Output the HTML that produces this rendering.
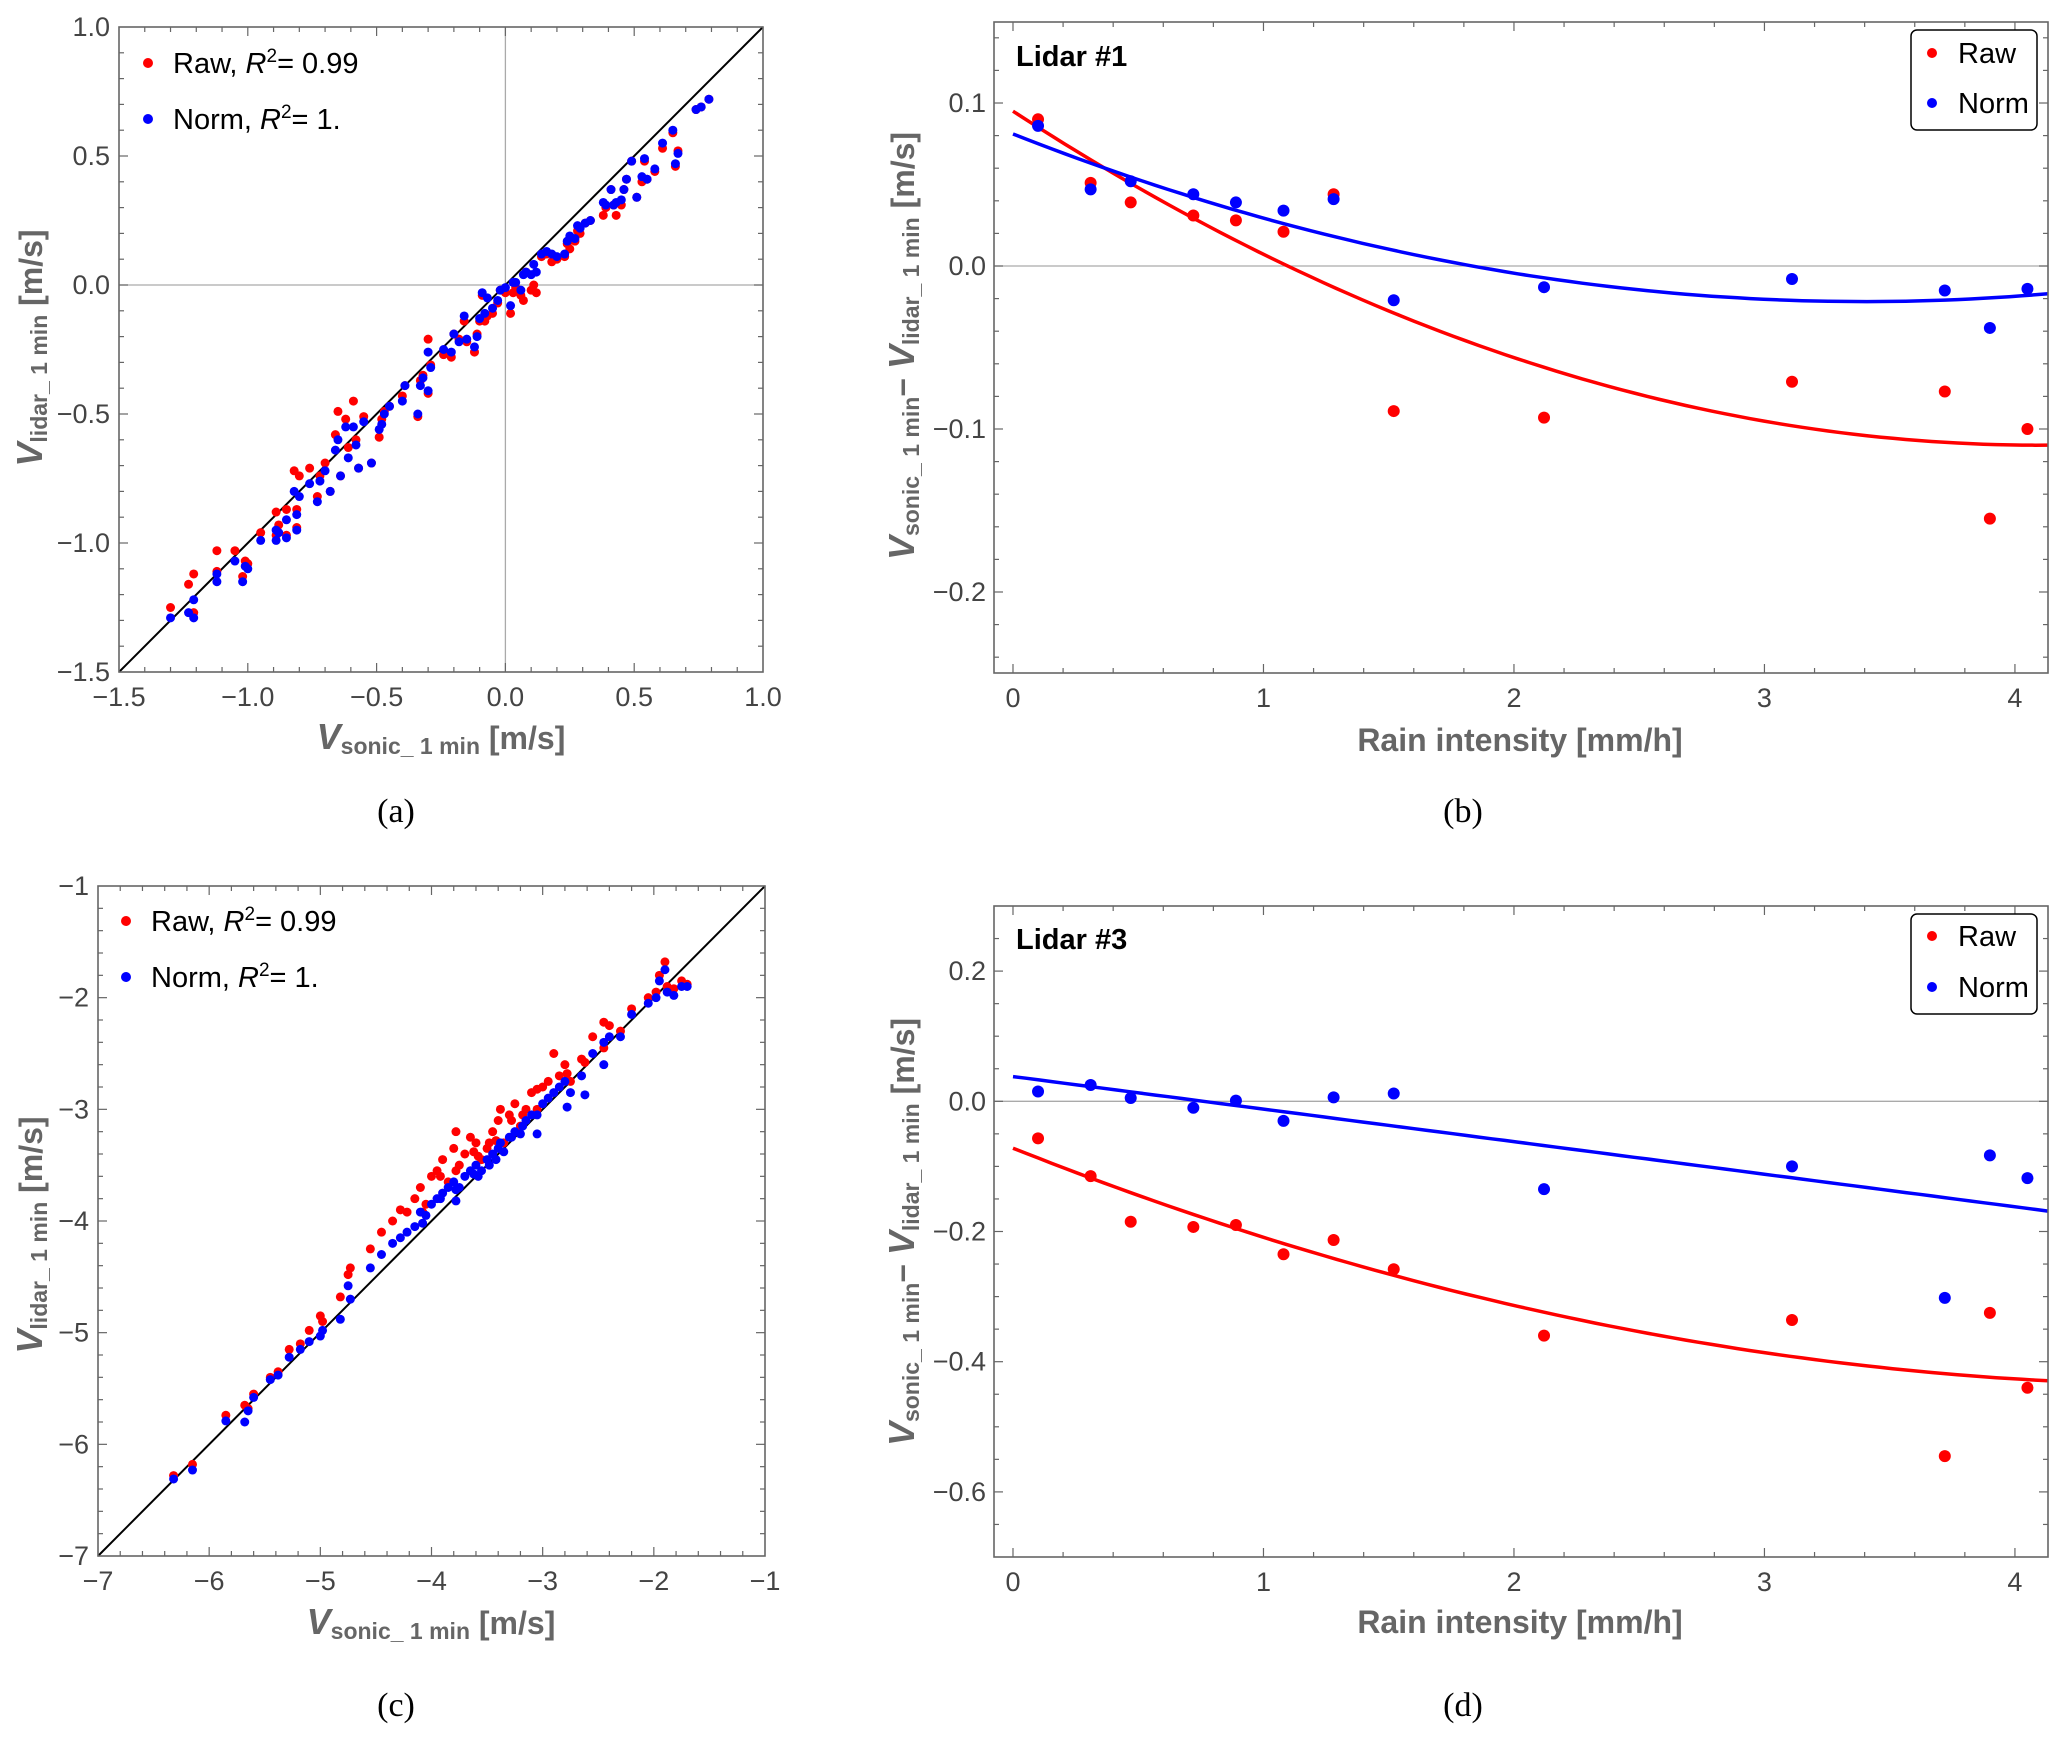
<!DOCTYPE html>
<html><head><meta charset="utf-8">
<style>
html,body{margin:0;padding:0;background:#fff;}
svg{display:block;font-family:"Liberation Sans",sans-serif;}
.tick{font-size:27px;fill:#444;}
.ttl{font-size:32px;font-weight:bold;fill:#666;}
.leg{font-size:29px;fill:#000;}
.cap{font-family:"Liberation Serif",serif;font-size:34px;fill:#000;}
</style></head>
<body>
<svg id="fig" width="2067" height="1739" viewBox="0 0 2067 1739" xmlns="http://www.w3.org/2000/svg"></svg>
<script>
// ---- Panel (a) data ----
const aSonic=[-1.30,-1.23,-1.21,-1.21,-1.12,-1.12,-1.05,-1.02,-1.01,-1.00,-0.95,-0.89,-0.89,-0.88,-0.85,-0.85,-0.82,-0.81,-0.81,-0.80,-0.76,-0.73,-0.72,-0.70,-0.68,-0.66,-0.65,-0.64,-0.62,-0.61,-0.59,-0.58,-0.57,-0.55,-0.52,-0.49,-0.48,-0.47,-0.45,-0.40,-0.39,-0.34,-0.33,-0.32,-0.30,-0.30,-0.29,-0.24,-0.21,-0.20,-0.18,-0.16,-0.15,-0.12,-0.11,-0.10,-0.09,-0.08,-0.07,-0.05,-0.03,-0.02,0.00,0.02,0.03,0.04,0.06,0.07,0.08,0.10,0.11,0.12,0.14,0.16,0.18,0.20,0.23,0.24,0.25,0.27,0.28,0.29,0.31,0.33,0.38,0.39,0.41,0.42,0.43,0.45,0.46,0.47,0.49,0.51,0.53,0.54,0.55,0.58,0.61,0.65,0.66,0.67,0.74,0.76,0.79];
const aRaw=[-1.25,-1.16,-1.12,-1.27,-1.03,-1.11,-1.03,-1.13,-1.07,-1.08,-0.96,-0.97,-0.88,-0.93,-0.97,-0.87,-0.72,-0.87,-0.94,-0.74,-0.71,-0.82,-0.74,-0.69,-0.80,-0.58,-0.49,-0.74,-0.52,-0.63,-0.45,-0.60,-0.71,-0.51,-0.69,-0.59,-0.52,-0.49,-0.47,-0.43,-0.39,-0.51,-0.37,-0.35,-0.21,-0.42,-0.31,-0.27,-0.28,-0.19,-0.21,-0.14,-0.22,-0.26,-0.19,-0.14,-0.04,-0.14,-0.12,-0.11,-0.07,-0.02,-0.03,-0.11,-0.03,-0.01,-0.04,-0.06,0.05,-0.02,0.00,-0.03,0.11,0.12,0.09,0.10,0.11,0.16,0.14,0.17,0.21,0.20,0.24,0.25,0.27,0.30,0.37,0.31,0.27,0.31,0.37,0.41,0.48,0.34,0.40,0.48,0.41,0.44,0.53,0.59,0.46,0.52,0.68,0.69,0.72];
const aNorm=[-1.29,-1.27,-1.29,-1.22,-1.15,-1.12,-1.07,-1.15,-1.09,-1.10,-0.99,-0.99,-0.95,-0.96,-0.98,-0.91,-0.80,-0.89,-0.95,-0.82,-0.77,-0.84,-0.76,-0.72,-0.80,-0.64,-0.60,-0.74,-0.55,-0.67,-0.55,-0.62,-0.71,-0.53,-0.69,-0.56,-0.54,-0.50,-0.47,-0.45,-0.39,-0.50,-0.39,-0.36,-0.26,-0.41,-0.32,-0.25,-0.26,-0.19,-0.22,-0.12,-0.21,-0.24,-0.20,-0.13,-0.03,-0.11,-0.05,-0.09,-0.06,-0.02,-0.01,-0.08,0.01,0.01,-0.02,0.04,0.05,0.04,0.08,0.05,0.12,0.13,0.12,0.11,0.12,0.17,0.19,0.18,0.23,0.22,0.24,0.25,0.32,0.31,0.37,0.31,0.32,0.33,0.37,0.41,0.48,0.34,0.42,0.49,0.41,0.45,0.55,0.60,0.47,0.51,0.68,0.69,0.72];
const aTicks=[-1.5,-1.0,-0.5,0.0,0.5,1.0];
const aTickLabels=["\u22121.5","\u22121.0","\u22120.5","0.0","0.5","1.0"];
// ---- Panel (c) data ----
const cSonic=[-6.32,-6.15,-5.85,-5.68,-5.65,-5.60,-5.45,-5.38,-5.28,-5.18,-5.10,-5.00,-4.98,-4.82,-4.75,-4.73,-4.55,-4.45,-4.35,-4.28,-4.22,-4.15,-4.10,-4.05,-4.00,-3.95,-3.90,-3.85,-3.80,-3.75,-3.70,-3.65,-3.60,-3.55,-3.50,-3.45,-3.40,-3.35,-3.30,-3.25,-3.20,-3.15,-3.10,-3.05,-3.00,-2.95,-2.90,-2.85,-2.80,-2.75,-2.65,-2.55,-2.45,-2.40,-2.30,-2.20,-2.05,-1.98,-1.95,-1.90,-1.88,-1.82,-1.75,-1.70,-3.92,-3.78,-3.62,-3.48,-3.38,-3.28,-3.18,-4.08,-3.58,-3.42,-2.78,-2.62,-2.45,-3.78,-3.05];
const cRaw=[-6.28,-6.18,-5.74,-5.65,-5.68,-5.55,-5.40,-5.35,-5.15,-5.10,-4.98,-4.85,-4.90,-4.68,-4.48,-4.42,-4.25,-4.10,-4.00,-3.90,-3.92,-3.80,-3.70,-3.85,-3.60,-3.55,-3.45,-3.65,-3.35,-3.50,-3.40,-3.25,-3.30,-3.45,-3.35,-3.20,-3.10,-3.30,-3.05,-2.95,-3.15,-3.00,-2.85,-3.00,-2.80,-2.75,-2.50,-2.70,-2.60,-2.75,-2.55,-2.35,-2.22,-2.25,-2.30,-2.10,-2.00,-1.95,-1.80,-1.68,-1.90,-1.92,-1.85,-1.88,-3.60,-3.55,-3.38,-3.30,-3.00,-3.10,-3.05,-3.92,-3.42,-3.28,-2.68,-2.58,-2.45,-3.20,-2.82];
const cNorm=[-6.31,-6.23,-5.79,-5.80,-5.70,-5.58,-5.42,-5.38,-5.22,-5.15,-5.08,-5.03,-4.98,-4.88,-4.58,-4.70,-4.42,-4.30,-4.20,-4.15,-4.10,-4.05,-3.92,-3.95,-3.85,-3.80,-3.75,-3.70,-3.65,-3.70,-3.60,-3.55,-3.50,-3.55,-3.45,-3.40,-3.35,-3.38,-3.25,-3.20,-3.22,-3.10,-3.05,-3.05,-2.95,-2.90,-2.85,-2.80,-2.75,-2.85,-2.70,-2.50,-2.40,-2.35,-2.35,-2.15,-2.05,-2.00,-1.85,-1.75,-1.95,-1.98,-1.90,-1.90,-3.80,-3.72,-3.58,-3.50,-3.30,-3.25,-3.15,-4.02,-3.60,-3.45,-2.98,-2.87,-2.60,-3.82,-3.22];
const cTicks=[-7,-6,-5,-4,-3,-2,-1];
const cTickLabels=["\u22127","\u22126","\u22125","\u22124","\u22123","\u22122","\u22121"];
// ---- Panel (b) data ----
const rain=[0.10,0.31,0.47,0.72,0.89,1.08,1.28,1.52,2.12,3.11,3.72,3.90,4.05];
const bRaw=[0.090,0.051,0.039,0.031,0.028,0.021,0.044,-0.089,-0.093,-0.071,-0.077,-0.155,-0.100];
const bNorm=[0.086,0.047,0.052,0.044,0.039,0.034,0.041,-0.021,-0.013,-0.008,-0.015,-0.038,-0.014];
const bRawFit=[0.095,-0.100,0.0122];
const bNormFit=[0.081,-0.0605,0.0089];
const bYTicks=[-0.2,-0.1,0.0,0.1];
const bYTickLabels=["\u22120.2","\u22120.1","0.0","0.1"];
// ---- Panel (d) data ----
const dRaw=[-0.057,-0.115,-0.185,-0.193,-0.190,-0.235,-0.213,-0.258,-0.360,-0.336,-0.545,-0.325,-0.440];
const dNorm=[0.015,0.025,0.005,-0.010,0.001,-0.030,0.006,0.012,-0.135,-0.100,-0.302,-0.083,-0.118];
const dRawFit=[-0.072,-0.153,0.0161];
const dNormFit=[0.038,-0.050,0.0];
const dYTicks=[-0.6,-0.4,-0.2,0.0,0.2];
const dYTickLabels=["\u22120.6","\u22120.4","\u22120.2","0.0","0.2"];
const rainTicks=[0,1,2,3,4];
const rainTickLabels=["0","1","2","3","4"];

const NS="http://www.w3.org/2000/svg";
const svg=document.getElementById('fig');
function mk(tag,attrs,parent){const e=document.createElementNS(NS,tag);for(const k in attrs)e.setAttribute(k,attrs[k]);(parent||svg).appendChild(e);return e;}
function lin(d0,d1,r0,r1){return v=>r0+(v-d0)*(r1-r0)/(d1-d0);}

function panel(cfg){
  const g=mk('g',{});
  
  
  const X=lin(cfg.xd[0],cfg.xd[1],cfg.xr[0],cfg.xr[1]);
  const Y=lin(cfg.yd[0],cfg.yd[1],cfg.yr[0],cfg.yr[1]);
  const L=cfg.frame[0],R=cfg.frame[1],T=cfg.frame[2],B=cfg.frame[3];
  if(cfg.zeroX){const zl=mk('line',{x1:X(0),x2:X(0),y1:T,y2:B,stroke:'#aaa','stroke-width':1.3},g);}
  if(cfg.zeroY){const zl=mk('line',{x1:L,x2:R,y1:Y(0),y2:Y(0),stroke:'#aaa','stroke-width':1.3},g);}
  const tg=mk('g',{stroke:'#666','stroke-width':1.2},g);
  
  
  for(let v=cfg.xd[0]-5*cfg.xMinor;v<=cfg.xd[1]+cfg.xMinor;v+=cfg.xMinor){
    const vv=Math.round(v/cfg.xMinor)*cfg.xMinor;const x=X(vv); if(x<L+1||x>R-1) continue;
    const maj=Math.abs(vv/cfg.xMajor-Math.round(vv/cfg.xMajor))<1e-6, len=maj?9:5;
    mk('line',{x1:x,x2:x,y1:B,y2:B-len},tg);mk('line',{x1:x,x2:x,y1:T,y2:T+len},tg);
  }
  for(let v=cfg.yd[1]-5*cfg.yMinor;v<=cfg.yd[0]+cfg.yMinor;v+=cfg.yMinor){
    const vv=Math.round(v/cfg.yMinor)*cfg.yMinor;const y=Y(vv); if(y<T+1||y>B-1) continue;
    const maj=Math.abs(vv/cfg.yMajor-Math.round(vv/cfg.yMajor))<1e-6, len=maj?9:5;
    mk('line',{x1:L,x2:L+len,y1:y,y2:y},tg);mk('line',{x1:R,x2:R-len,y1:y,y2:y},tg);
  }
  cfg.xTicks.forEach((v,i)=>{const t=mk('text',{x:X(v),y:cfg.xLabY,'text-anchor':'middle',class:'tick'},g);t.textContent=cfg.xTickLabels[i];});
  cfg.yTicks.forEach((v,i)=>{const t=mk('text',{x:cfg.yLabX,y:Y(v)+9,'text-anchor':'end',class:'tick'},g);t.textContent=cfg.yTickLabels[i];});
  if(cfg.diag){const dl=mk('line',{x1:X(cfg.xd[0]),y1:Y(cfg.xd[0]),x2:X(cfg.xd[1]),y2:Y(cfg.xd[1]),stroke:'#000','stroke-width':2},g);}
  (cfg.fits||[]).forEach(f=>{
    const x0=0;let d='';for(let i=0;i<=80;i++){const v=x0+(cfg.xd[1]-x0)*i/80;const c=f.c;const y=c[0]+c[1]*v+c[2]*v*v;d+=(i?'L':'M')+X(v).toFixed(1)+','+Y(y).toFixed(1);}
    const p=mk('path',{d:d,fill:'none',stroke:f.color,'stroke-width':3.5},g);
    
  });
  cfg.series.forEach(s=>{
    const sg=mk('g',{fill:s.color},g);
    
    
    s.y.forEach((v,i)=>{const c=mk('circle',{cx:X(cfg.x[i]),cy:Y(v),r:cfg.r},sg);});
  });
  const fr=mk('rect',{x:L,y:T,width:R-L,height:B-T,fill:'none',stroke:'#666','stroke-width':1.6},g);
  
  return g;
}

panel({name:'panel-a-scatter',xd:[-1.5,1.0],xr:[119,763],yd:[1.0,-1.5],yr:[27,672],frame:[119,763,27,672],
  xMajor:0.5,xMinor:0.1,yMajor:0.5,yMinor:0.1,xTicks:aTicks,xTickLabels:aTickLabels,yTicks:aTicks,yTickLabels:aTickLabels,
  xLabY:706,yLabX:110,zeroX:true,zeroY:true,diag:true,r:4.5,x:aSonic,
  series:[{name:'raw-series',color:'#f00',y:aRaw},{name:'norm-series',color:'#00f',y:aNorm}]});
panel({name:'panel-c-scatter',xd:[-7,-1],xr:[98,765],yd:[-1,-7],yr:[886,1556],frame:[98,765,886,1556],
  xMajor:1,xMinor:0.2,yMajor:1,yMinor:0.2,xTicks:cTicks,xTickLabels:cTickLabels,yTicks:cTicks,yTickLabels:cTickLabels,
  xLabY:1590,yLabX:89,diag:true,r:4.5,x:cSonic,
  series:[{name:'raw-series',color:'#f00',y:cRaw},{name:'norm-series',color:'#00f',y:cNorm}]});
panel({name:'panel-b-lidar1',xd:[-0.0758,4.132],xr:[994,2048],yd:[0.1497,-0.2497],yr:[22,673],frame:[994,2048,22,673],
  xMajor:1,xMinor:0.2,yMajor:0.1,yMinor:0.02,xTicks:rainTicks,xTickLabels:rainTickLabels,yTicks:bYTicks,yTickLabels:bYTickLabels,
  xLabY:707,yLabX:986,zeroY:true,r:6,x:rain,
  fits:[{name:'raw-fit',color:'#f00',c:bRawFit},{name:'norm-fit',color:'#00f',c:bNormFit}],
  series:[{name:'raw-series',color:'#f00',y:bRaw},{name:'norm-series',color:'#00f',y:bNorm}]});
panel({name:'panel-d-lidar3',xd:[-0.0758,4.132],xr:[994,2048],yd:[0.3,-0.7],yr:[906,1557],frame:[994,2048,906,1557],
  xMajor:1,xMinor:0.2,yMajor:0.2,yMinor:0.05,xTicks:rainTicks,xTickLabels:rainTickLabels,yTicks:dYTicks,yTickLabels:dYTickLabels,
  xLabY:1591,yLabX:986,zeroY:true,r:6,x:rain,
  fits:[{name:'raw-fit',color:'#f00',c:dRawFit},{name:'norm-fit',color:'#00f',c:dNormFit}],
  series:[{name:'raw-series',color:'#f00',y:dRaw},{name:'norm-series',color:'#00f',y:dNorm}]});
</script>
<svg width="2067" height="1739" style="position:absolute;left:0;top:0;font-family:'Liberation Sans',sans-serif">
  <g>
    <circle cx="148" cy="63" r="5" fill="#f00"/>
    <text x="173" y="73" class="leg">Raw, <tspan font-style="italic">R</tspan><tspan dy="-11" font-size="19">2</tspan><tspan dy="11">= 0.99</tspan></text>
    <circle cx="148" cy="119" r="5" fill="#00f"/>
    <text x="173" y="129" class="leg">Norm, <tspan font-style="italic">R</tspan><tspan dy="-11" font-size="19">2</tspan><tspan dy="11">= 1.</tspan></text>
  </g>
  <g>
    <circle cx="126" cy="921" r="5" fill="#f00"/>
    <text x="151" y="931" class="leg">Raw, <tspan font-style="italic">R</tspan><tspan dy="-11" font-size="19">2</tspan><tspan dy="11">= 0.99</tspan></text>
    <circle cx="126" cy="977" r="5" fill="#00f"/>
    <text x="151" y="987" class="leg">Norm, <tspan font-style="italic">R</tspan><tspan dy="-11" font-size="19">2</tspan><tspan dy="11">= 1.</tspan></text>
  </g>
  <g>
    <rect x="1911" y="30" width="126" height="100" rx="6" fill="#fff" stroke="#000" stroke-width="1.5"/>
    <circle cx="1932" cy="53" r="5" fill="#f00"/>
    <text x="1958" y="63" class="leg">Raw</text>
    <circle cx="1932" cy="103" r="5" fill="#00f"/>
    <text x="1958" y="113" class="leg">Norm</text>
    <text x="1016" y="66" font-size="29" font-weight="bold" fill="#000">Lidar #1</text>
  </g>
  <g>
    <rect x="1911" y="914" width="126" height="100" rx="6" fill="#fff" stroke="#000" stroke-width="1.5"/>
    <circle cx="1932" cy="936" r="5" fill="#f00"/>
    <text x="1958" y="946" class="leg">Raw</text>
    <circle cx="1932" cy="987" r="5" fill="#00f"/>
    <text x="1958" y="997" class="leg">Norm</text>
    <text x="1016" y="949" font-size="29" font-weight="bold" fill="#000">Lidar #3</text>
  </g>
  <text x="441" y="749" text-anchor="middle" class="ttl"><tspan font-style="italic" font-size="36">V</tspan><tspan font-size="23" dy="5">sonic_ 1 min</tspan><tspan dy="-5"> [m/s]</tspan></text>
  <text x="431" y="1634" text-anchor="middle" class="ttl"><tspan font-style="italic" font-size="36">V</tspan><tspan font-size="23" dy="5">sonic_ 1 min</tspan><tspan dy="-5"> [m/s]</tspan></text>
  <text transform="translate(42,348) rotate(-90)" text-anchor="middle" class="ttl"><tspan font-style="italic" font-size="36">V</tspan><tspan font-size="23" dy="5">lidar_ 1 min</tspan><tspan dy="-5"> [m/s]</tspan></text>
  <text transform="translate(42,1235) rotate(-90)" text-anchor="middle" class="ttl"><tspan font-style="italic" font-size="36">V</tspan><tspan font-size="23" dy="5">lidar_ 1 min</tspan><tspan dy="-5"> [m/s]</tspan></text>
  <text x="1520" y="751" text-anchor="middle" class="ttl">Rain intensity [mm/h]</text>
  <text x="1520" y="1633" text-anchor="middle" class="ttl">Rain intensity [mm/h]</text>
  <text transform="translate(914,346) rotate(-90)" text-anchor="middle" class="ttl"><tspan font-style="italic" font-size="36">V</tspan><tspan font-size="23" dy="5">sonic_ 1 min</tspan><tspan dy="-5">− </tspan><tspan font-style="italic" font-size="36">V</tspan><tspan font-size="23" dy="5">lidar_ 1 min</tspan><tspan dy="-5"> [m/s]</tspan></text>
  <text transform="translate(914,1232) rotate(-90)" text-anchor="middle" class="ttl"><tspan font-style="italic" font-size="36">V</tspan><tspan font-size="23" dy="5">sonic_ 1 min</tspan><tspan dy="-5">− </tspan><tspan font-style="italic" font-size="36">V</tspan><tspan font-size="23" dy="5">lidar_ 1 min</tspan><tspan dy="-5"> [m/s]</tspan></text>
  <text x="396" y="822" text-anchor="middle" class="cap">(a)</text>
  <text x="1463" y="822" text-anchor="middle" class="cap">(b)</text>
  <text x="396" y="1716" text-anchor="middle" class="cap">(c)</text>
  <text x="1463" y="1716" text-anchor="middle" class="cap">(d)</text>
</svg>
</body></html>
